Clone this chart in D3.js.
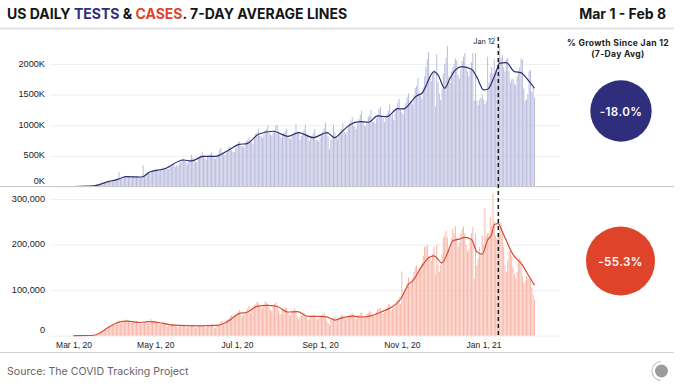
<!DOCTYPE html>
<html>
<head>
<meta charset="utf-8">
<script src="https://cdn.jsdelivr.net/npm/d3@7"></script>
<style>
  html, body { margin: 0; background: #fff; }
  svg { display: block; font-family: Inter, "Noto Sans", sans-serif; }
  .domain { display: none; }
</style>
</head>
<body>
<div id="chart"></div>
<script>
// daily values from Mar 1 2020, one row per week (Sun..Sat)
const testsDaily = [
  1, 1, 1, 1, 2, 2, 2,
  2, 3, 3, 4, 5, 5, 7,
  8, 10, 14, 15, 22, 25, 30,
  40, 45, 60, 65, 85, 95, 110,
  90, 95, 105, 118, 125, 135, 235,
  130, 125, 140, 165, 170, 175, 160,
  150, 145, 150, 160, 165, 170, 160,
  145, 140, 150, 345, 190, 215, 240,
  225, 215, 240, 250, 260, 290, 265,
  250, 245, 265, 300, 310, 300, 285,
  280, 285, 310, 325, 340, 355, 320,
  345, 330, 375, 400, 445, 450, 420,
  400, 360, 415, 440, 520, 465, 415,
  405, 395, 460, 490, 520, 570, 510,
  470, 440, 480, 510, 530, 560, 500,
  470, 450, 490, 530, 590, 630, 560,
  540, 510, 550, 600, 650, 640, 590,
  570, 560, 620, 690, 720, 735, 660,
  660, 640, 690, 740, 760, 800, 720,
  720, 700, 780, 860, 880, 935, 830,
  830, 790, 850, 920, 930, 1000, 880,
  850, 830, 880, 920, 1000, 1005, 900,
  850, 790, 840, 880, 900, 940, 810,
  790, 770, 830, 870, 880, 1020, 870,
  900, 760, 830, 880, 920, 1010, 860,
  800, 740, 790, 830, 870, 940, 760,
  760, 730, 800, 860, 900, 950, 1050,
  900, 820, 610, 760, 830, 1010, 880,
  790, 770, 840, 900, 940, 1040, 890,
  860, 890, 970, 1040, 1080, 1130, 990,
  980, 940, 1020, 1100, 1170, 1240, 1060,
  1000, 980, 1040, 1130, 1160, 1250, 1060,
  1060, 1030, 1110, 1180, 1270, 1300, 1150,
  1120, 1050, 1120, 1190, 1240, 1340, 1150,
  1180, 1090, 1210, 1290, 1370, 1430, 1250,
  1210, 1180, 1290, 1370, 1460, 1520, 1340,
  1390, 1340, 1470, 1610, 1640, 1770, 1530,
  1480, 1440, 1620, 1800, 1950, 2080, 2200,
  1800, 1720, 1860, 1900, 1310, 2160, 1700,
  1520, 1410, 1600, 1850, 2000, 2100, 2296,
  1800, 1700, 1880, 1950, 2000, 2090, 2060,
  1820, 1760, 1910, 2050, 2120, 2180, 1950,
  1880, 1800, 1900, 2030, 2180, 1400, 2170,
  1400, 1330, 1420, 1450, 1500, 1420, 1340,
  1400, 2120, 1700, 1850, 1950, 1850, 2080,
  1900, 1850, 2050, 2296, 2100, 2150, 1950,
  1880, 2080, 2100, 1880, 1700, 1750, 1760,
  1680, 1650, 1800, 1880, 1950, 2090, 2070,
  1600, 1400, 1420, 1500, 1880, 1900, 1550,
  1620, 1450
];
const casesDaily = [
  0, 0, 0, 0, 0, 0, 0,
  0, 0, 0, 1, 0, 1, 1,
  1, 1, 1, 2, 3, 4, 6,
  8, 9, 10, 13, 17, 19, 19,
  20, 22, 25, 27, 30, 32, 34,
  27, 30, 32, 32, 35, 35, 33,
  28, 27, 28, 30, 32, 33, 30,
  27, 25, 27, 29, 30, 31, 33,
  26, 27, 36, 31, 30, 33, 30,
  27, 24, 25, 28, 31, 27, 28,
  20, 22, 24, 23, 27, 25, 24,
  20, 19, 21, 22, 24, 24, 21,
  19, 18, 21, 20, 22, 24, 21,
  17, 19, 20, 24, 23, 22, 20,
  19, 18, 20, 22, 22, 24, 25,
  17, 18, 23, 26, 27, 32, 32,
  25, 27, 35, 36, 37, 42, 45,
  36, 40, 45, 50, 53, 57, 45,
  43, 47, 52, 55, 60, 66, 50,
  60, 60, 68, 68, 75, 72, 63,
  62, 60, 67, 76, 72, 70, 62,
  56, 55, 65, 70, 73, 67, 55,
  48, 47, 56, 58, 62, 60, 52,
  46, 45, 55, 55, 60, 55, 42,
  36, 42, 45, 48, 50, 46, 40,
  35, 36, 44, 43, 46, 44, 38,
  35, 38, 40, 44, 47, 50, 42,
  33, 28, 24, 35, 38, 40, 42,
  33, 36, 38, 42, 46, 45, 39,
  36, 38, 42, 45, 48, 50, 47,
  40, 36, 44, 46, 50, 51, 44,
  38, 40, 48, 50, 55, 52, 46,
  44, 45, 52, 58, 60, 61, 50,
  48, 52, 58, 63, 70, 68, 55,
  58, 62, 68, 75, 78, 85, 70,
  141, 85, 92, 103, 115, 128, 108,
  115, 125, 140, 150, 155, 140, 150,
  150, 160, 175, 195, 195, 200, 175,
  170, 165, 180, 195, 135, 200, 155,
  140, 155, 180, 215, 220, 230, 215,
  190, 190, 215, 235, 225, 240, 215,
  195, 205, 225, 235, 240, 225, 200,
  185, 190, 210, 225, 238, 125, 225,
  155, 170, 195, 180, 220, 200, 280,
  220, 225, 225, 260, 240, 313, 250,
  220, 215, 225, 235, 250, 230, 195,
  155, 140, 165, 185, 190, 175, 150,
  135, 125, 140, 165, 170, 165, 130,
  115, 120, 130, 125, 125, 125, 105,
  90, 78
];

// 7-day average read at the bends of the line: day number since Mar 1, value
const testsAvgDays = [0, 15, 25, 33, 39, 51, 57, 68, 82, 88, 97, 106, 115, 123, 130, 138, 149, 160, 168, 179, 189, 195, 199, 206, 214, 220, 227, 234, 242, 246, 256, 260, 269, 272, 277, 281, 285, 290, 297, 301, 306, 309, 315, 318, 323, 329, 334, 338, 344];
const testsAvg = [0, 10, 75, 117, 160, 155, 237, 290, 433, 417, 493, 493, 585, 683, 705, 853, 902, 820, 880, 797, 880, 797, 868, 1005, 1059, 1049, 1152, 1140, 1271, 1266, 1479, 1523, 1876, 1822, 1604, 1768, 1904, 1957, 1915, 1785, 1577, 1588, 1850, 2013, 2023, 1876, 1860, 1768, 1604];
const casesAvgDays = [0, 15, 20, 27, 33, 40, 50, 56, 67, 74, 94, 107, 115, 124, 129, 137, 144, 152, 160, 167, 175, 188, 195, 199, 209, 214, 221, 231, 238, 244, 250, 253, 259, 265, 269, 275, 279, 283, 288, 292, 297, 301, 305, 309, 312, 314, 317, 320, 328, 335, 339, 344];
const casesAvg = [0, 1, 6.6, 20, 29, 32, 29, 31, 27, 23, 21.5, 22.5, 31, 49, 51, 64.5, 66.6, 64, 52, 53, 42.5, 42, 34.4, 38, 43, 41, 43, 54, 63.6, 80, 112.7, 120, 148, 171, 175, 160, 181, 208, 212, 216, 211, 184, 179, 210, 222, 244, 246, 228, 178, 155, 135, 111];

const xTickDates = ['2020-03-01', '2020-05-01', '2020-07-01', '2020-09-01', '2020-11-01', '2021-01-01'];
const xTickLabels = ['Mar 1, 20', 'May 1, 20', 'Jul 1, 20', 'Sep 1, 20', 'Nov 1, 20', 'Jan 1, 21'];
const testTicks = [0, 500, 1000, 1500, 2000];
const caseTicks = [0, 100, 200, 300];

const WIDTH = 680;
const HEIGHT = 389;
const GRID_LEFT = 50;
const GRID_RIGHT = 560;
const TESTS_COLOR = '#2e2e7c';
const CASES_COLOR = '#df442a';

const parseDay = d3.utcParse('%Y-%m-%d');
const startDay = parseDay('2020-03-01');
const dayDate = (i) => d3.utcDay.offset(startDay, i);

const svg = d3.select('#chart').append('svg')
  .attr('width', WIDTH)
  .attr('height', HEIGHT);

const x = d3.scaleUtc()
  .domain([startDay, parseDay('2021-02-08')])
  .range([73.5, 534.5]);
const yTests = d3.scaleLinear().domain([0, 2000]).range([186.5, 64]);
const yCases = d3.scaleLinear().domain([0, 300]).range([335.7, 199]);

// bars, average line and gridlines for one panel
function drawPanel (daily, avgDays, avg, y, ticks, tickText, barColor, lineColor, zeroShift) {
  const g = svg.append('g');

  const axis = g.append('g')
    .attr('transform', 'translate(' + GRID_LEFT + ',0)')
    .call(d3.axisLeft(y).tickValues(ticks).tickSize(-(GRID_RIGHT - GRID_LEFT)).tickPadding(5).tickFormat(tickText));
  axis.selectAll('.tick line').attr('stroke', '#efefef');
  axis.selectAll('.tick text')
    .attr('font-size', 9.2)
    .attr('font-weight', 500)
    .attr('fill', '#222')
    .attr('dy', (d) => d === 0 ? zeroShift : 2);

  g.append('g').selectAll('rect')
    .data(daily)
    .join('rect')
    .attr('x', (d, i) => x(dayDate(i)) - 0.5)
    .attr('width', 1)
    .attr('y', (d) => y(d))
    .attr('height', (d) => y(0) - y(d))
    .attr('fill', barColor);

  const line = d3.line()
    .x((d) => x(dayDate(d)))
    .y((d, i) => y(avg[i]))
    .curve(d3.curveMonotoneX);
  g.append('path')
    .attr('d', line(avgDays))
    .attr('fill', 'none')
    .attr('stroke', lineColor)
    .attr('stroke-width', 1.2);
}

drawPanel(testsDaily, testsAvgDays, testsAvg, yTests, testTicks, (d) => d + 'K', '#bcbcdf', '#2d2d6e', -3);
drawPanel(casesDaily, casesAvgDays, casesAvg, yCases, caseTicks, (d) => d === 0 ? '0' : d3.format(',')(d * 1000), '#f8b8aa', '#d94a33', -3.5);

// rules
const rules = [[28.5, 2, '#e3e3e3'], [186.5, 1, '#c9c9c9'], [352.5, 1, '#cfcfcf']];
svg.append('g').selectAll('line')
  .data(rules)
  .join('line')
  .attr('x1', 0)
  .attr('x2', 674)
  .attr('y1', (d) => d[0])
  .attr('y2', (d) => d[0])
  .attr('stroke-width', (d) => d[1])
  .attr('stroke', (d) => d[2]);

// month labels
const xAxis = svg.append('g')
  .attr('transform', 'translate(0,337)')
  .call(d3.axisBottom(x)
    .tickValues(xTickDates.map(parseDay))
    .tickSize(0)
    .tickPadding(5)
    .tickFormat((d, i) => xTickLabels[i]));
xAxis.selectAll('text')
  .attr('font-size', 8.5)
  .attr('font-weight', 500)
  .attr('fill', '#222');

// Jan 12 marker
const markerX = x(parseDay('2021-01-12'));
svg.append('line')
  .attr('x1', markerX)
  .attr('x2', markerX)
  .attr('y1', 37)
  .attr('y2', 335)
  .attr('stroke', '#1d1d1d')
  .attr('stroke-width', 1.5)
  .attr('stroke-dasharray', '4,3');
svg.append('text')
  .attr('x', markerX - 3)
  .attr('y', 44)
  .attr('text-anchor', 'end')
  .attr('font-size', 7.3)
  .attr('fill', '#222')
  .text('Jan 12');

// title
const title = svg.append('text')
  .attr('x', 7)
  .attr('y', 19.3)
  .attr('font-size', 14)
  .attr('font-weight', 700)
  .attr('fill', '#151515');
title.append('tspan').text('US DAILY ');
title.append('tspan').attr('fill', TESTS_COLOR).text('TESTS');
title.append('tspan').text(' & ');
title.append('tspan').attr('fill', CASES_COLOR).text('CASES');
title.append('tspan').text('. 7-DAY AVERAGE LINES');

svg.append('text')
  .attr('x', 666)
  .attr('y', 19.3)
  .attr('text-anchor', 'end')
  .attr('font-size', 14)
  .attr('font-weight', 700)
  .attr('fill', '#151515')
  .text('Mar 1 - Feb 8');

// growth callouts
const growthLabels = ['% Growth Since Jan 12', '(7-Day Avg)'];
svg.append('g').selectAll('text')
  .data(growthLabels)
  .join('text')
  .attr('x', 618)
  .attr('y', (d, i) => 45.5 + i * 11)
  .attr('text-anchor', 'middle')
  .attr('font-size', 8.6)
  .attr('font-weight', 700)
  .attr('letter-spacing', 0.3)
  .attr('fill', '#222')
  .text((d) => d);

const growthValues = [-18.0, -55.3];
const growthCircles = [[621, 111, 30.7, TESTS_COLOR], [620.5, 261, 34.5, CASES_COLOR]];
growthCircles.forEach(function (c, i) {
  svg.append('circle').attr('cx', c[0]).attr('cy', c[1]).attr('r', c[2]).attr('fill', c[3]);
  svg.append('text')
    .attr('x', c[0])
    .attr('y', c[1] + 4.5)
    .attr('text-anchor', 'middle')
    .attr('font-size', 11.6)
    .attr('font-weight', 600)
    .attr('letter-spacing', 0.4)
    .attr('fill', '#fff')
    .text(growthValues[i].toFixed(1) + '%');
});

// footer
svg.append('text')
  .attr('x', 7)
  .attr('y', 374.5)
  .attr('font-size', 10.6)
  .attr('fill', '#666')
  .text('Source: The COVID Tracking Project');

const logo = svg.append('g').attr('transform', 'translate(661.5,371)');
logo.append('circle').attr('r', 6.5).attr('fill', '#9b9b9b');
logo.append('path')
  .attr('d', d3.arc()({ innerRadius: 9.2, outerRadius: 10, startAngle: Math.PI * 1.02, endAngle: Math.PI * 1.98 }))
  .attr('fill', '#a8a8a8');
</script>
</body>
</html>
